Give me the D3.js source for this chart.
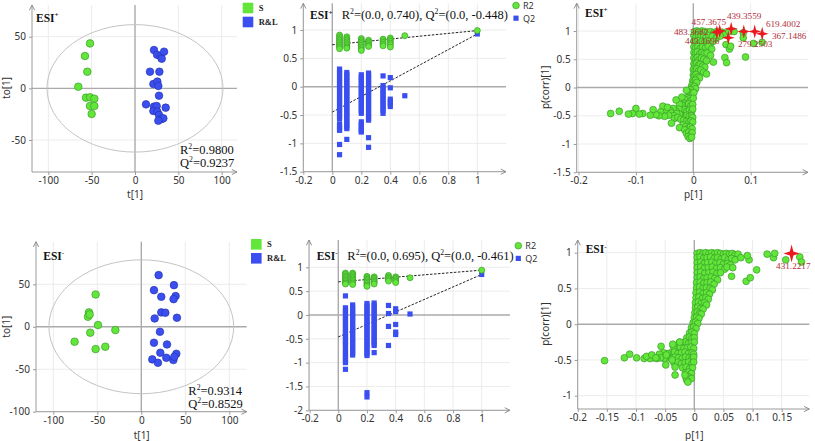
<!DOCTYPE html>
<html><head><meta charset="utf-8">
<script src="https://cdn.jsdelivr.net/npm/d3@7"></script>
<style>body{margin:0;background:#fff}svg{display:block}</style>
</head><body>
<svg id="c" width="815" height="441"></svg>
<script>
// ---------------- DATA ----------------
// OPLS-DA score plots (t[1], to[1])
const esiPosS = [[-51.9,43.5],[-57.7,31.3],[-55,16.1],[-65.4,1.6],[-56.5,-9],[-51.9,-8.7],[-46.9,-10],[-51.9,-17.1],[-46.9,-17.1],[-50,-24.8]];
const esiPosRL = [[21.9,37.1],[25.5,32.5],[29.5,31],[33.5,35.5],[30.8,28.7],[17.3,16.1],[28.1,16.1],[21.2,4.2],[25.8,6.5],[26.9,2.3],[27.7,-7.1],[12.7,-15.5],[21.9,-17.7],[25,-17.1],[35.4,-18.7],[21.2,-21.9],[25.8,-22.6],[27.7,-25.8],[30.8,-29.7],[32.7,-29],[26.9,-31.3]];
const esiNegS = [[-51.9,38],[-59.5,16.9],[-60.6,11.8],[-58.7,14.5],[-49.2,2],[-58,-7],[-29.5,-3.9],[-75.8,-17.6],[-51.9,-26.3],[-40.9,-23.5]];
const esiNegRL = [[19.7,60.8],[37.1,49],[14.4,43.1],[22.7,35.3],[39,36.1],[36.7,32.5],[22.7,16.9],[27.3,16.5],[15.2,9.8],[40.5,10.6],[21.2,-5.9],[14.4,-18.8],[29.2,-20.8],[21.6,-30.6],[28.4,-36.5],[12.5,-38.4],[18.9,-42.4],[39.8,-31.8],[36.4,-39.2],[37.5,-35.3]];
const esiPosEllipse = [101.5, 61.7];
const esiNegEllipse = [105, 78.8];
const esiPosStats = ["0.9800", "0.9237"];
const esiNegStats = ["0.9314", "0.8529"];
const groupNames = ["S", "R&L"];

// Permutation tests
const permX = [0.05, 0.1, 0.2, 0.25, 0.35, 0.4, 0.5, 1];
const permPosR2 = [
 [0.91,0.88,0.85,0.82,0.79,0.76,0.73,0.7,0.67],
 [0.88,0.85,0.82,0.79,0.76,0.73,0.7,0.68],
 [0.85,0.82,0.79,0.76,0.73,0.7,0.67,0.64],
 [0.82,0.79,0.76,0.73,0.71],
 [0.84,0.81,0.78,0.75,0.72],
 [0.86,0.83,0.8,0.77,0.74,0.7],
 [0.9],
 [0.99]];
const permPosQ2 = [
 [0.31,0.27,0.23,0.19,0.15,0.11,0.07,0.03,-0.01,-0.05,-0.09,-0.13,-0.17,-0.21,-0.25,-0.29,-0.33,-0.37,-0.41,-0.45,-0.49,-0.53,-0.57,-0.66,-0.7,-0.74,-0.77,-1.02,-1.2],
 [0.25,0.21,0.17,0.13,0.09,0.05,0.01,-0.03,-0.07,-0.11,-0.15,-0.19,-0.23,-0.27,-0.31,-0.35,-0.39,-0.43,-0.47,-0.51,-0.55,-0.59,-0.63,-0.67,-0.71,-0.74,-0.93],
 [0.21,0.17,0.13,0.09,0.05,0.01,-0.03,-0.07,-0.11,-0.15,-0.19,-0.23,-0.27,-0.31,-0.35,-0.39,-0.43,-0.47,-0.62,-0.66,-0.7,-0.74,-0.78,-0.8],
 [0.24,0.2,0.16,0.12,0.08,0.04,0,-0.04,-0.08,-0.12,-0.16,-0.2,-0.24,-0.28,-0.32,-0.36,-0.4,-0.44,-0.48,-0.52,-0.56,-0.59,-0.9,-1.07],
 [0.19,0.02,-0.02,-0.06,-0.1,-0.14,-0.18,-0.22,-0.26,-0.3,-0.34,-0.38,-0.42,-0.47],
 [0.16,-0.02,-0.22,-0.26,-0.3,-0.35],
 [-0.16],
 [0.93]];
const permPosIntercepts = [0.740, -0.448];
const permPosTitle = ["0.740", "-0.448"];

const permNegR2 = [
 [0.88,0.85,0.82,0.79,0.76,0.73,0.7,0.67,0.65],
 [0.88,0.85,0.82,0.79,0.76,0.73,0.7,0.67,0.64],
 [0.81,0.78,0.75,0.72,0.69,0.66,0.63,0.6],
 [0.8,0.77,0.74,0.71,0.68,0.65],
 [0.83,0.8,0.77,0.74,0.71],
 [0.8,0.77,0.74,0.71,0.68],
 [0.78],
 [0.94]];
const permNegQ2 = [
 [0.4,0.15,0.1,0.05,0,-0.05,-0.1,-0.15,-0.2,-0.25,-0.3,-0.35,-0.4,-0.45,-0.5,-0.55,-0.6,-0.63,-0.71,-0.76,-0.81,-0.86,-0.91,-0.96,-1.0,-1.14],
 [0.21,0.16,0.11,0.06,0.01,-0.04,-0.09,-0.14,-0.19,-0.24,-0.29,-0.34,-0.39,-0.44,-0.49,-0.54,-0.59,-0.64,-0.69,-0.74,-0.79,-0.84],
 [0.24,0.19,0.14,0.09,0.04,-0.01,-0.06,-0.11,-0.16,-0.21,-0.26,-0.31,-0.36,-0.41,-0.46,-0.51,-0.56,-0.61,-0.66,-0.71,-0.76,-0.81,-0.85,-1.63,-1.72],
 [0.25,0.2,0.15,0.1,0.05,0,-0.05,-0.1,-0.15,-0.2,-0.25,-0.3,-0.35,-0.4,-0.45,-0.5,-0.55,-0.6,-0.64,-0.79],
 [0.2,0.03,-0.24,-0.64],
 [0.13,0.07,-0.2,-0.36,-0.41],
 [0.02],
 [0.85]];
const permNegIntercepts = [0.695, -0.461];
const permNegTitle = ["0.695", "-0.461"];

// S-plots (p[1], p(corr)[1])
const splotPos = [
 [0.002,0.99],[0.006,1.0],[0.01,0.99],[0.015,1.0],[0.02,0.99],[0.025,0.98],[0.03,0.99],[0.036,0.97],[0.041,0.99],[0.05,0.98],[0.056,0.96],[0.062,0.99],[0.071,0.99],[0.087,0.97],
 [0.001,0.92],[0.005,0.9],[0.009,0.93],[0.013,0.9],[0.018,0.91],[0.022,0.88],[0.027,0.92],[0.033,0.9],[0.04,0.87],[0.047,0.91],[0.087,0.88],
 [0.001,0.82],[0.004,0.8],[0.008,0.83],[0.012,0.79],[0.016,0.82],[0.02,0.8],[0.025,0.83],[0.03,0.78],[0.035,0.82],[0.057,0.76],[0.105,0.78],[0.12,0.8],
 [0.001,0.72],[0.004,0.7],[0.008,0.73],[0.012,0.69],[0.016,0.72],[0.021,0.7],[0.026,0.73],[0.032,0.68],[0.063,0.68],[0.065,0.73],
 [0.001,0.62],[0.004,0.6],[0.007,0.63],[0.011,0.59],[0.015,0.62],[0.019,0.6],[0.024,0.61],[0.03,0.57],
 [0.001,0.52],[0.004,0.5],[0.007,0.53],[0.01,0.49],[0.014,0.52],[0.018,0.5],[0.023,0.47],[0.035,0.45],[0.055,0.53],[0.058,0.44],[0.091,0.54],
 [0.001,0.42],[0.003,0.4],[0.006,0.43],[0.009,0.39],[0.012,0.41],[0.016,0.38],[0.02,0.36],
 [0.0,0.32],[0.003,0.3],[0.006,0.33],[0.009,0.29],[0.013,0.31],[0.018,0.27],[0.023,0.24],
 [0.0,0.22],[0.002,0.2],[0.005,0.23],[0.008,0.19],[0.011,0.17],
 [-0.001,0.12],[0.001,0.1],[0.004,0.13],[0.006,0.09],
 [-0.003,0.03],[-0.001,0.0],[0.002,0.02],[0.004,-0.02],[-0.005,-0.04],
 [-0.007,-0.08],[-0.004,-0.1],[-0.001,-0.12],[0.001,-0.09],[-0.012,-0.05],
 [-0.011,-0.18],[-0.007,-0.2],[-0.003,-0.22],[0.0,-0.19],[-0.016,-0.2],[-0.02,-0.17],
 [-0.016,-0.28],[-0.012,-0.31],[-0.008,-0.29],[-0.004,-0.32],[-0.001,-0.3],[-0.02,-0.31],[-0.024,-0.3],[-0.03,-0.22],
 [-0.02,-0.41],[-0.015,-0.39],[-0.011,-0.42],[-0.007,-0.4],[-0.003,-0.43],[-0.001,-0.38],[-0.025,-0.38],[-0.03,-0.42],[-0.035,-0.37],[-0.04,-0.41],[-0.048,-0.4],[-0.053,-0.33],[-0.057,-0.43],[-0.045,-0.35],[-0.038,-0.45],
 [-0.019,-0.5],[-0.015,-0.52],[-0.011,-0.49],[-0.007,-0.51],[-0.003,-0.5],[-0.001,-0.53],[-0.024,-0.47],[-0.029,-0.46],[-0.034,-0.5],[-0.043,-0.49],[-0.05,-0.51],[-0.06,-0.5],[-0.065,-0.48],[-0.07,-0.39],[-0.075,-0.49],[-0.088,-0.46],[-0.094,-0.47],[-0.1,-0.37],[-0.106,-0.46],[-0.113,-0.47],[-0.129,-0.42],[-0.144,-0.46],
 [-0.033,-0.55],[-0.027,-0.53],[-0.022,-0.56],
 [-0.017,-0.58],[-0.012,-0.6],[-0.008,-0.62],[-0.004,-0.59],[-0.001,-0.61],[-0.038,-0.63],[-0.018,-0.66],
 [-0.013,-0.69],[-0.009,-0.72],[-0.005,-0.7],[-0.002,-0.73],[-0.024,-0.71],[-0.015,-0.75],
 [-0.012,-0.81],[-0.008,-0.79],[-0.004,-0.82],[-0.002,-0.8],
 [-0.009,-0.87],[-0.006,-0.9],[-0.003,-0.88]];
const starsPos = [[0.041,0.98],[0.046,1.0],[0.061,0.88],[0.066,1.04],[0.088,0.99],[0.107,0.99],[0.12,0.95]];
const starsPosLabels = ["483.3682","457.3675","443.1696","439.3559","279.2503","619.4002","367.1486"];

const splotNeg = [
 [0.005,0.99],[0.01,1.0],[0.015,0.99],[0.02,1.0],[0.025,0.99],[0.03,1.0],[0.035,0.99],[0.04,1.0],[0.045,0.99],[0.05,0.98],[0.055,0.99],[0.06,0.98],[0.065,0.99],[0.07,0.97],[0.075,0.98],
 [0.005,0.93],[0.01,0.94],[0.016,0.92],[0.022,0.93],[0.028,0.94],[0.034,0.92],[0.04,0.93],[0.046,0.91],[0.052,0.93],[0.058,0.9],[0.064,0.92],[0.07,0.9],
 [0.005,0.86],[0.011,0.87],[0.017,0.85],[0.023,0.86],[0.03,0.87],[0.037,0.85],[0.044,0.86],[0.05,0.84],[0.057,0.85],[0.062,0.83],
 [0.005,0.79],[0.011,0.8],[0.017,0.78],[0.024,0.79],[0.031,0.8],[0.038,0.78],[0.045,0.79],[0.052,0.77],[0.056,0.8],
 [0.005,0.72],[0.011,0.73],[0.018,0.71],[0.025,0.72],[0.032,0.73],[0.039,0.71],[0.045,0.72],
 [0.005,0.65],[0.01,0.66],[0.016,0.64],[0.022,0.65],[0.029,0.66],[0.035,0.64],[0.04,0.62],
 [0.004,0.58],[0.01,0.59],[0.016,0.57],[0.022,0.58],[0.028,0.59],[0.034,0.56],
 [0.004,0.51],[0.009,0.52],[0.015,0.5],[0.021,0.51],[0.027,0.5],[0.031,0.48],
 [0.003,0.44],[0.009,0.45],[0.015,0.43],[0.021,0.44],[0.026,0.42],
 [0.003,0.37],[0.008,0.38],[0.014,0.36],[0.02,0.37],[0.024,0.35],
 [0.002,0.3],[0.007,0.31],[0.012,0.29],[0.018,0.3],[0.021,0.27],
 [0.002,0.23],[0.006,0.24],[0.011,0.22],[0.015,0.21],
 [0.001,0.16],[0.005,0.17],[0.009,0.15],[0.012,0.14],
 [0.0,0.09],[0.004,0.1],[0.008,0.08],
 [-0.002,0.02],[0.002,0.03],[0.006,0.01],
 [-0.005,-0.05],[-0.001,-0.04],[0.003,-0.06],
 [-0.008,-0.12],[-0.004,-0.11],[0.0,-0.13],
 [-0.013,-0.19],[-0.008,-0.18],[-0.004,-0.2],[0.0,-0.19],
 [-0.02,-0.26],[-0.015,-0.25],[-0.01,-0.27],[-0.005,-0.26],[0.0,-0.25],[-0.025,-0.25],
 [-0.03,-0.33],[-0.024,-0.32],[-0.018,-0.34],[-0.012,-0.33],[-0.006,-0.32],[-0.001,-0.34],[-0.036,-0.31],
 [-0.04,-0.4],[-0.034,-0.39],[-0.028,-0.41],[-0.022,-0.4],[-0.016,-0.39],[-0.01,-0.41],[-0.004,-0.4],[-0.001,-0.42],[-0.046,-0.41],[-0.053,-0.4],[-0.06,-0.42],
 [-0.045,-0.47],[-0.039,-0.48],[-0.033,-0.46],[-0.027,-0.47],[-0.021,-0.48],[-0.015,-0.46],[-0.009,-0.47],[-0.004,-0.48],[-0.001,-0.46],[-0.052,-0.48],[-0.058,-0.47],[-0.064,-0.48],[-0.07,-0.47],[-0.076,-0.48],
 [-0.035,-0.54],[-0.028,-0.53],[-0.022,-0.55],[-0.016,-0.54],[-0.01,-0.53],[-0.004,-0.55],[-0.001,-0.53],
 [-0.02,-0.61],[-0.014,-0.6],[-0.008,-0.62],[-0.003,-0.61],
 [-0.015,-0.68],[-0.01,-0.67],[-0.005,-0.69],
 [-0.014,-0.75],[-0.009,-0.74],[-0.005,-0.76],
 [-0.154,-0.51],[-0.12,-0.47],[-0.111,-0.42],[-0.099,-0.47],[-0.086,-0.48],[-0.082,-0.45],[-0.073,-0.43],[-0.066,-0.47],[-0.057,-0.31],[-0.049,-0.57],[-0.048,-0.43],[-0.037,-0.28],[-0.033,-0.6],[-0.033,-0.71],[-0.038,-0.5],[-0.025,-0.25],
 [-0.013,-0.78],[-0.011,-0.81],[-0.016,-0.71],
 [0.066,0.79],[0.064,0.67],[0.089,0.6],[0.096,0.65],[0.107,0.76],[0.094,0.9],[0.091,0.96],[0.08,0.93],[0.125,0.98],[0.136,0.93],[0.138,0.99],[0.157,0.9],[0.181,0.94],[0.184,0.87]];
const starsNeg = [[0.167,0.99]];
const starsNegLabels = ["431.2217"];

// ---------------- LAYOUT ----------------
const P = {
 p1:{left:32,right:237,top:5,bottom:172,xCal:[[-100,48.3],[100,221.7]],yCal:[[50,36.7],[-50,140]],xTicks:[-100,-50,0,50,100],yTicks:[50,0,-50]},
 p2:{left:303.3,right:506,top:3.3,bottom:171.7,xCal:[[0,332.3],[1,477.3]],yCal:[[1,30],[-1.5,171.7]],xTicks:[-0.2,0,0.2,0.4,0.6,0.8,1],yTicks:[1,0.5,0,-0.5,-1,-1.5]},
 p3:{left:576.7,right:808,top:3.3,bottom:172.3,xCal:[[0,693.3],[0.1,750.7]],yCal:[[1,31],[-1.5,172.3]],xTicks:[-0.2,-0.1,0,0.1],yTicks:[1,0.5,0,-0.5,-1,-1.5]},
 p4:{left:36,right:246.7,top:241.7,bottom:411.7,xCal:[[-100,53.3],[100,229.3]],yCal:[[50,284.3],[-100,411.7]],xTicks:[-100,-50,0,50,100],yTicks:[50,0,-50,-100]},
 p5:{left:309,right:510,top:240,bottom:410.3,xCal:[[0,338.3],[1,481.7]],yCal:[[1,267.3],[-2,410.3]],xTicks:[-0.2,0,0.2,0.4,0.6,0.8,1],yTicks:[1,0.5,0,-0.5,-1,-1.5,-2]},
 p6:{left:577.7,right:809.3,top:240,bottom:409,xCal:[[0,694.3],[0.15,781.7]],yCal:[[1,252.7],[-1,395.7]],xTicks:[-0.2,-0.15,-0.1,-0.05,0,0.05,0.1,0.15],yTicks:[1,0.5,0,-0.5,-1]}
};
const SANS = "'Noto Sans', 'Open Sans', sans-serif";
const SERIF = "'Liberation Serif', 'Times New Roman', serif";
const GREEN = "#62e63a", GREEN_S = "#3a9e2a", BLUE = "#3b4ff0", BLUE_S = "#2633b0";
const STAR = "#ec1820", LABEL = "#b0303c";

const svg = d3.select("#c");
const defs = svg.append("defs");
defs.append("marker").attr("id","arr").attr("viewBox","0 0 8 8").attr("refX",7).attr("refY",4)
  .attr("markerWidth",7).attr("markerHeight",7).attr("markerUnits","userSpaceOnUse").attr("orient","auto")
  .append("path").attr("d","M1,1 L7,4 L1,7").attr("fill","none").attr("stroke","#8a8a8a").attr("stroke-width",1.1);

function panel(L){
  const x = d3.scaleLinear().domain([L.xCal[0][0],L.xCal[1][0]]).range([L.xCal[0][1],L.xCal[1][1]]);
  const y = d3.scaleLinear().domain([L.yCal[0][0],L.yCal[1][0]]).range([L.yCal[0][1],L.yCal[1][1]]);
  const g = svg.append("g");
  g.selectAll(null).data(L.xTicks.filter(d=>d!==0)).join("line")
    .attr("x1",d=>x(d)).attr("x2",d=>x(d)).attr("y1",L.top).attr("y2",L.bottom).attr("stroke","#ececec");
  g.selectAll(null).data(L.yTicks.filter(d=>d!==0)).join("line")
    .attr("y1",d=>y(d)).attr("y2",d=>y(d)).attr("x1",L.left).attr("x2",L.right).attr("stroke","#ececec");
  g.append("line").attr("x1",x(0)).attr("x2",x(0)).attr("y1",L.top).attr("y2",L.bottom).attr("stroke","#aaaaaa").attr("stroke-width",1.4);
  g.append("line").attr("x1",L.left).attr("x2",L.right).attr("y1",y(0)).attr("y2",y(0)).attr("stroke","#aaaaaa").attr("stroke-width",1.4);
  const fmt = d=>String(d);
  const ax = g.append("g").attr("transform",`translate(0,${L.bottom})`)
    .call(d3.axisBottom(x).tickValues(L.xTicks).tickSize(3).tickPadding(2).tickFormat(fmt));
  const ay = g.append("g").attr("transform",`translate(${L.left},0)`)
    .call(d3.axisLeft(y).tickValues(L.yTicks).tickSize(3).tickPadding(3).tickFormat(fmt));
  [ax,ay].forEach(a=>{
    a.select(".domain").remove();
    a.selectAll("line").attr("stroke","#9a9a9a");
    a.selectAll("text").attr("font-family",SANS).attr("font-size",10).attr("fill","#333");
  });
  g.append("line").attr("x1",L.left).attr("x2",L.right).attr("y1",L.bottom).attr("y2",L.bottom)
    .attr("stroke","#9a9a9a").attr("marker-end","url(#arr)");
  g.append("line").attr("x1",L.left).attr("x2",L.left).attr("y1",L.bottom).attr("y2",L.top)
    .attr("stroke","#9a9a9a").attr("marker-end","url(#arr)");
  return {x,y,g};
}

function rich(g, x, y, segs, size, opts={}){
  const t = g.append("text").attr("x",x).attr("y",y).attr("font-family",SERIF).attr("font-size",size)
    .attr("fill",opts.fill||"#111").attr("font-weight",opts.weight||"normal");
  let sup=false;
  segs.forEach(s=>{
    const isSup = typeof s !== "string";
    const txt = isSup ? s.sup : s;
    let dy = 0;
    if(isSup && !sup) dy = -size*0.4;
    if(!isSup && sup) dy = size*0.4;
    t.append("tspan").attr("dy",dy).attr("font-size",isSup?size*0.62:size).text(txt);
    sup = isSup;
  });
  return t;
}

function axisTitle(text, cx, by, rotated){
  const t = svg.append("text").attr("font-family",SANS).attr("font-size",10).attr("fill","#333")
    .attr("text-anchor","middle").text(text);
  if(rotated) t.attr("transform",`translate(${by},${cx}) rotate(-90)`);
  else t.attr("x",cx).attr("y",by);
}

function starPath(rx, ry){
  const ix = rx*0.22, iy = ry*0.22;
  return `M0,${-ry} L${ix},${-iy} L${rx},0 L${ix},${iy} L0,${ry} L${-ix},${iy} L${-rx},0 L${-ix},${-iy} Z`;
}

// ---------- Score plots ----------
function scorePlot(L, sPts, rlPts, ell, stats, sign, esiXY, statXY, legXY){
  const {x,y,g} = panel(L);
  g.append("ellipse").attr("cx",x(0)).attr("cy",y(0)).attr("rx",x(ell[0])-x(0)).attr("ry",y(0)-y(ell[1]))
    .attr("fill","none").attr("stroke","#c4c4c4").attr("stroke-width",1);
  g.selectAll(null).data(sPts).join("circle").attr("cx",d=>x(d[0])).attr("cy",d=>y(d[1])).attr("r",3.8)
    .attr("fill",GREEN).attr("stroke",GREEN_S).attr("stroke-width",0.7);
  g.selectAll(null).data(rlPts).join("circle").attr("cx",d=>x(d[0])).attr("cy",d=>y(d[1])).attr("r",3.8)
    .attr("fill",BLUE).attr("stroke",BLUE_S).attr("stroke-width",0.7);
  rich(g, esiXY[0], esiXY[1], ["ESI",{sup:sign}], 11.5, {weight:"bold"});
  rich(g, statXY[0], statXY[1], ["R",{sup:"2"},"="+stats[0]], 12.5);
  rich(g, statXY[0], statXY[1]+12.7, ["Q",{sup:"2"},"="+stats[1]], 12.5);
  const lg = svg.append("g");
  [[GREEN,groupNames[0]],[BLUE,groupNames[1]]].forEach((d,i)=>{
    lg.append("rect").attr("x",legXY[0]).attr("y",legXY[1]+i*14).attr("width",10.6).attr("height",10.6).attr("fill",d[0]);
    lg.append("text").attr("x",legXY[0]+16).attr("y",legXY[1]+i*14+8).attr("font-family",SERIF).attr("font-weight","bold")
      .attr("font-size",8.5).attr("fill","#222").text(d[1]);
  });
}
scorePlot(P.p1, esiPosS, esiPosRL, esiPosEllipse, esiPosStats, "+", [36,21.5], [180,154], [242.7,2.7]);
scorePlot(P.p4, esiNegS, esiNegRL, esiNegEllipse, esiNegStats, "-", [43.3,260], [188.3,395], [251,239]);
axisTitle("t[1]", 135, 198, false);
axisTitle("to[1]", 88, 10, true);
axisTitle("t[1]", 141.7, 439, false);
axisTitle("to[1]", 326.7, 10, true);

// ---------- Permutation plots ----------
function permPlot(L, R2, Q2, icpt, title, sign, esiXY, titleX, legXY){
  const {x,y,g} = panel(L);
  const q = [], r = [];
  permX.forEach((px,i)=>{ Q2[i].forEach(v=>q.push([px,v])); R2[i].forEach(v=>r.push([px,v])); });
  const lines = [[icpt[0], R2[R2.length-1][0]],[icpt[1], Q2[Q2.length-1][0]]];
  g.selectAll(null).data(lines).join("line").attr("x1",x(0)).attr("x2",x(1))
    .attr("y1",d=>y(d[0])).attr("y2",d=>y(d[1])).attr("stroke","#222").attr("stroke-width",1).attr("stroke-dasharray","2.5,1.5");
  g.selectAll(null).data(q).join("rect").attr("x",d=>x(d[0])-2.6).attr("y",d=>y(d[1])-2.6)
    .attr("width",5.2).attr("height",5.2).attr("fill",BLUE);
  g.selectAll(null).data(r).join("circle").attr("cx",d=>x(d[0])).attr("cy",d=>y(d[1])).attr("r",3)
    .attr("fill",GREEN).attr("stroke",GREEN_S).attr("stroke-width",0.7);
  rich(g, esiXY[0], esiXY[1], ["ESI",{sup:sign}], 11.5, {weight:"bold"});
  rich(g, titleX, esiXY[1], ["R",{sup:"2"},"=(0.0, "+title[0]+"), Q",{sup:"2"},"=(0.0, "+title[1]+")"], 12.5);
  const lg = svg.append("g");
  lg.append("circle").attr("cx",legXY[0]).attr("cy",legXY[1]).attr("r",3.3).attr("fill",GREEN).attr("stroke",GREEN_S).attr("stroke-width",0.7);
  lg.append("rect").attr("x",legXY[0]-2.6).attr("y",legXY[1]+12.7-2.6).attr("width",5.2).attr("height",5.2).attr("fill",BLUE);
  ["R2","Q2"].forEach((t,i)=>lg.append("text").attr("x",legXY[0]+7).attr("y",legXY[1]+i*12.7+3.3)
    .attr("font-family",SANS).attr("font-size",9).attr("fill","#333").text(t));
}
permPlot(P.p2, permPosR2, permPosQ2, permPosIntercepts, permPosTitle, "+", [310,19.3], 341.7, [516,5.5]);
permPlot(P.p5, permNegR2, permNegQ2, permNegIntercepts, permNegTitle, "-", [316.7,260], 347.3, [518.3,245.7]);

// ---------- S-plots ----------
function sPlot(L, pts, stars, labels, labelOff, sign, esiXY, starSize){
  const {x,y,g} = panel(L);
  g.selectAll(null).data(pts).join("circle").attr("cx",d=>x(d[0])).attr("cy",d=>y(d[1])).attr("r",3.4)
    .attr("fill",GREEN).attr("stroke",GREEN_S).attr("stroke-width",0.7);
  g.selectAll(null).data(stars).join("path").attr("transform",d=>`translate(${x(d[0])},${y(d[1])})`)
    .attr("d",starPath(starSize[0],starSize[1])).attr("fill",STAR);
  g.selectAll(null).data(stars).join("text")
    .attr("x",(d,i)=>x(d[0])+labelOff[i][0]).attr("y",(d,i)=>y(d[1])+labelOff[i][1])
    .attr("text-anchor",(d,i)=>labelOff[i][2]||"start")
    .attr("font-family",SERIF).attr("font-size",9.2).attr("fill",LABEL).text((d,i)=>labels[i]);
  rich(g, esiXY[0], esiXY[1], ["ESI",{sup:sign}], 11.5, {weight:"bold"});
}
const posLabelOff = [[-42.9,3],[-28.1,-6.3],[-43.4,6.7],[-4.3,-9.5],[-5.9,15.1],[11.2,-4.9],[9.7,5.4]];
sPlot(P.p3, splotPos, starsPos, starsPosLabels, posLabelOff, "+", [585,16.7], [6.5,7]);
sPlot(P.p6, splotNeg, starsNeg, starsNegLabels, [[1.7,16,"middle"]], "-", [585.7,253.3], [8,9]);
axisTitle("p[1]", 693.3, 198, false);
axisTitle("p(corr)[1]", 87.3, 549, true);
axisTitle("p[1]", 694.3, 439, false);
axisTitle("p(corr)[1]", 324, 549, true);
</script>
</body></html>
